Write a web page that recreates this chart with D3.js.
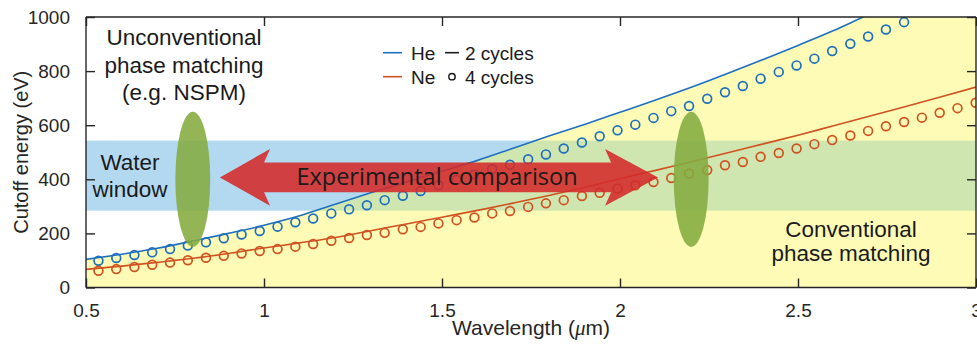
<!DOCTYPE html>
<html>
<head>
<meta charset="utf-8">
<script src="https://cdn.jsdelivr.net/npm/d3@7"></script>
<style>
  html, body { margin: 0; padding: 0; background: #fff; }
  #chart { width: 977px; height: 345px; overflow: hidden; }
  svg { display: block; font-family: "Liberation Sans", Arial, sans-serif; }
  .axis path, .axis line { stroke: #262626; }
  .axis text { fill: #262626; font-size: 19px; font-family: "Liberation Sans", Arial, sans-serif; }
</style>
</head>
<body>
<div id="chart"><svg></svg></div>
<script>
//여백
var T = 17;
var L = 86;
var R = 1;
var B = 57.5;
var W = 977;
var H = 345;

// 2 cycles (solid lines)
var wave2 = [0.5, 0.6, 0.7, 0.8, 0.9, 1.0, 1.1, 1.2, 1.3, 1.4, 1.5, 1.6, 1.7, 1.8, 1.9,
             2.0, 2.1, 2.2, 2.3, 2.4, 2.5, 2.6, 2.7, 2.8, 2.9, 3.0];
var he2 = [104, 123, 145, 172, 200, 230, 265, 308, 350, 390, 430, 470, 515, 560, 603,
           648, 693, 740, 790, 842, 895, 950, 1010, 1065, 1120, 1180];
var ne2 = [67, 79, 93, 108, 126, 146, 165, 185, 210, 235, 260, 285, 312, 340, 370,
           402, 433, 465, 497, 530, 563, 598, 633, 668, 704, 741];

// 4 cycles (circles)
var wave4 = [0.535, 0.585, 0.636, 0.686, 0.736, 0.786, 0.837, 0.887, 0.937, 0.988,
             1.038, 1.088, 1.138, 1.189, 1.239, 1.289, 1.339, 1.390, 1.440, 1.490,
             1.541, 1.591, 1.641, 1.691, 1.742, 1.792, 1.842, 1.893, 1.943, 1.993,
             2.043, 2.094, 2.144, 2.194, 2.245, 2.295, 2.345, 2.395, 2.446, 2.496,
             2.546, 2.596, 2.647, 2.697, 2.747, 2.798, 2.848, 2.898, 2.948, 2.999];
var he4 = [99, 109, 120, 130, 142, 155, 167, 182, 196, 209,
           225, 241, 255, 274, 289, 304, 323, 339, 357, 378,
           398, 418, 438, 454, 474, 492, 514, 536, 559, 581,
           602, 627, 652, 671, 698, 722, 745, 772, 797, 821,
           846, 874, 901, 928, 954, 981];
var ne4 = [62, 68, 76, 84, 92, 101, 110, 117, 126, 135,
           142, 151, 161, 173, 183, 194, 202, 215, 224, 237,
           249, 259, 274, 283, 298, 311, 323, 338, 350, 366,
           378, 390, 405, 421, 434, 452, 464, 483, 497, 514,
           530, 545, 562, 579, 596, 612, 628, 646, 663, 683];

// water window band (eV)
var waterWindow = [284, 543];
// green ellipses: [wavelength, energy center, energy half height, wavelength half width]
var ellipses = [[0.80, 400, 250, 0.049], [2.20, 400, 250, 0.049]];
// arrow: left tip, left head back, right head back, right tip (um), center / head / shaft (eV)
var arrowX = [0.876, 1.017, 1.958, 2.107];
var arrowE = [407, 105, 55];

var xTicks = [0.5, 1, 1.5, 2, 2.5, 3];
var yTicks = [0, 200, 400, 600, 800, 1000];

var blue = "#1f6fbf";
var red = "#cf5220";

var svg = d3.select("#chart svg")
    .attr("width", W)
    .attr("height", H);

var x = d3.scaleLinear()
    .domain([0.5, 3])
    .range([L, W - R]);
var y = d3.scaleLinear()
    .domain([0, 1000])
    .range([H - B, T]);

var defs = svg.append("defs");
defs.append("clipPath").attr("id", "plot")
    .append("rect")
    .attr("x", L).attr("y", T)
    .attr("width", W - R - L).attr("height", H - B - T);

var heArea = d3.area()
    .x(function(d, i) { return x(wave2[i]); })
    .y0(y(0))
    .y1(function(d) { return y(d); })
    .curve(d3.curveMonotoneX);

defs.append("clipPath").attr("id", "under")
    .append("path")
    .attr("d", heArea(he2));

var gData = svg.append("g").attr("clip-path", "url(#plot)");

// 물 창 (blue band)
gData.append("rect")
    .attr("x", L).attr("width", W - R - L)
    .attr("y", y(waterWindow[1]))
    .attr("height", y(waterWindow[0]) - y(waterWindow[1]))
    .attr("fill", "#b2d9f0");

// yellow area under He curve
gData.append("path")
    .attr("d", heArea(he2))
    .attr("fill", "#fdfbb5");

// band inside the yellow -> green
gData.append("rect")
    .attr("clip-path", "url(#under)")
    .attr("x", L).attr("width", W - R - L)
    .attr("y", y(waterWindow[1]))
    .attr("height", y(waterWindow[0]) - y(waterWindow[1]))
    .attr("fill", "#d0e6b1");

var line = d3.line()
    .x(function(d, i) { return x(wave2[i]); })
    .y(function(d) { return y(d); })
    .curve(d3.curveMonotoneX);

gData.append("path").attr("d", line(he2))
    .attr("fill", "none").attr("stroke", blue).attr("stroke-width", 1.6);
gData.append("path").attr("d", line(ne2))
    .attr("fill", "none").attr("stroke", red).attr("stroke-width", 1.6);

gData.selectAll("circle.he").data(he4).enter()
    .append("circle")
    .attr("class", "he")
    .attr("cx", function(d, i) { return x(wave4[i]); })
    .attr("cy", function(d) { return y(d); })
    .attr("r", 4.4)
    .attr("fill", "none").attr("stroke", blue).attr("stroke-width", 1.7);
gData.selectAll("circle.ne").data(ne4).enter()
    .append("circle")
    .attr("class", "ne")
    .attr("cx", function(d, i) { return x(wave4[i]); })
    .attr("cy", function(d) { return y(d); })
    .attr("r", 4.4)
    .attr("fill", "none").attr("stroke", red).attr("stroke-width", 1.7);

// ellipses
gData.selectAll("ellipse").data(ellipses).enter()
    .append("ellipse")
    .attr("cx", function(d) { return x(d[0]); })
    .attr("cy", function(d) { return y(d[1]); })
    .attr("rx", function(d) { return x(d[0] + d[3]) - x(d[0]); })
    .attr("ry", function(d) { return y(d[1] - d[2]) - y(d[1]); })
    .attr("fill", "#84ab3f")
    .attr("fill-opacity", 0.88);

// double arrow
var ac = y(arrowE[0]);
var ah = y(arrowE[0] - arrowE[1]) - ac;
var as = y(arrowE[0] - arrowE[2]) - ac;
var sw = 6; // swept back of head
var ax = arrowX.map(function(d) { return x(d); });
var pts = [
    [ax[0], ac],
    [ax[1], ac - ah],
    [ax[1] - sw, ac - as],
    [ax[2] + sw, ac - as],
    [ax[2], ac - ah],
    [ax[3], ac],
    [ax[2], ac + ah],
    [ax[2] + sw, ac + as],
    [ax[1] - sw, ac + as],
    [ax[1], ac + ah]
];
gData.append("path")
    .attr("d", "M" + pts.join("L") + "Z")
    .attr("fill", "#d42a2a")
    .attr("fill-opacity", 0.88);

svg.append("text")
    .attr("x", 437)
    .attr("y", ac + 8)
    .attr("text-anchor", "middle")
    .style("font-family", "'Open Sans', sans-serif")
    .style("font-size", "23.5px")
    .attr("fill", "#1a1a1a")
    .text("Experimental comparison");

// axes (inward ticks, box)
var gxAxis = svg.append("g").attr("class", "x-axis axis")
    .attr("transform", "translate(0," + (H - B) + ")")
    .call(d3.axisBottom(x).tickValues(xTicks).tickSize(-9).tickPadding(16)
        .tickFormat(d3.format("")));
var gxTop = svg.append("g").attr("class", "axis")
    .attr("transform", "translate(0," + T + ")")
    .call(d3.axisTop(x).tickValues(xTicks).tickSize(-9).tickFormat(""));
var gyAxis = svg.append("g").attr("class", "y-axis axis")
    .attr("transform", "translate(" + L + ",0)")
    .call(d3.axisLeft(y).tickValues(yTicks).tickSize(-9).tickPadding(16)
        .tickFormat(d3.format("d")));
var gyRight = svg.append("g").attr("class", "axis")
    .attr("transform", "translate(" + (W - R) + ",0)")
    .call(d3.axisRight(y).tickValues(yTicks).tickSize(-9).tickFormat(""));

svg.selectAll(".axis path").attr("stroke-width", 1.4);
svg.selectAll(".axis line").attr("stroke-width", 1.4);
gxAxis.selectAll("path.domain").attr("d", "M" + L + ",0H" + (W - R));
gxTop.selectAll("path.domain").attr("d", "M" + L + ",0H" + (W - R));
gyAxis.selectAll("path.domain").attr("d", "M0," + T + "V" + (H - B));
gyRight.selectAll("path.domain").attr("d", "M0," + T + "V" + (H - B));

// axis labels
svg.append("text")
    .attr("transform", "translate(28," + ((T + H - B) / 2) + ") rotate(-90)")
    .attr("text-anchor", "middle")
    .style("font-size", "20px")
    .attr("fill", "#262626")
    .text("Cutoff energy (eV)");

var xl = svg.append("text")
    .attr("x", (L + W - R) / 2)
    .attr("y", 335)
    .attr("text-anchor", "middle")
    .style("font-size", "21px")
    .attr("fill", "#262626");
xl.append("tspan").text("Wavelength (");
xl.append("tspan").style("font-family", "'Liberation Serif', serif")
    .style("font-style", "italic").text("\u03bc");
xl.append("tspan").text("m)");

// annotations
function block(lines, cx, y0, dy) {
    var t = svg.append("text")
        .attr("text-anchor", "middle")
        .style("font-size", "22.5px")
        .attr("fill", "#1a1a1a");
    lines.forEach(function(s, i) {
        t.append("tspan").attr("x", cx).attr("y", y0 + i * dy).text(s);
    });
}
block(["Unconventional", "phase matching", "(e.g. NSPM)"], 184, 45, 27.5);
block(["Water", "window"], 130, 170, 27);
block(["Conventional", "phase matching"], 851, 237, 24);

// legend
var lg = svg.append("g").style("font-size", "19px").attr("fill", "#1a1a1a");
lg.append("line").attr("x1", 383).attr("x2", 402).attr("y1", 52.7).attr("y2", 52.7)
    .attr("stroke", blue).attr("stroke-width", 1.6);
lg.append("line").attr("x1", 383).attr("x2", 402).attr("y1", 76.7).attr("y2", 76.7)
    .attr("stroke", red).attr("stroke-width", 1.6);
lg.append("text").attr("x", 411).attr("y", 59.5).text("He");
lg.append("text").attr("x", 411).attr("y", 83.5).text("Ne");
lg.append("line").attr("x1", 445).attr("x2", 459).attr("y1", 52.7).attr("y2", 52.7)
    .attr("stroke", "#1a1a1a").attr("stroke-width", 1.6);
lg.append("circle").attr("cx", 452).attr("cy", 76.7).attr("r", 3.2)
    .attr("fill", "none").attr("stroke", "#1a1a1a").attr("stroke-width", 1.4);
lg.append("text").attr("x", 465).attr("y", 59.5).text("2 cycles");
lg.append("text").attr("x", 465).attr("y", 83.5).text("4 cycles");
</script>
</body>
</html>
